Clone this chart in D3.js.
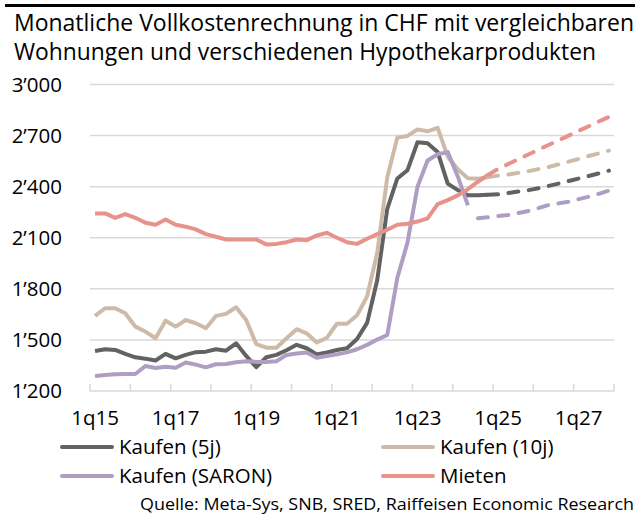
<!DOCTYPE html>
<html>
<head>
<meta charset="utf-8">
<script src="https://d3js.org/d3.v7.min.js"></script>
<style>
  body { margin: 0; background: #fff; }
  text { font-family: "Open Sans", "Noto Sans", sans-serif; fill: #000; }
</style>
</head>
<body>
<svg id="chart" width="635" height="517"></svg>
<script>
// quarters 1q15 .. 4q27
var quarters = [];
for (var yr = 15; yr <= 27; yr++) {
  for (var q = 1; q <= 4; q++) quarters.push(q + "q" + yr);
}

var xLabels = ["1q15", "1q17", "1q19", "1q21", "1q23", "1q25", "1q27"];
var yTicks = [1200, 1500, 1800, 2100, 2400, 2700, 3000];

// history, starting 1q15
var kaufen5 = [1435, 1445, 1441, 1418, 1398, 1390, 1379, 1418, 1392, 1412,
  1428, 1431, 1445, 1437, 1480, 1406, 1340, 1398, 1412, 1439,
  1471, 1451, 1414, 1426, 1441, 1451, 1505, 1600, 1850, 2270,
  2448, 2496, 2661, 2655, 2603, 2418, 2380, 2350, 2350, 2352];
var kaufen10 = [1641, 1686, 1686, 1657, 1578, 1549, 1510, 1613, 1578, 1617,
  1598, 1569, 1641, 1653, 1692, 1617, 1476, 1454, 1454, 1510,
  1563, 1539, 1485, 1512, 1595, 1595, 1645, 1756, 2010, 2455,
  2688, 2698, 2736, 2725, 2745, 2576, 2502, 2450, 2447, 2456];
var kaufenSaron = [1288, 1294, 1298, 1300, 1300, 1347, 1335, 1343, 1337, 1367,
  1355, 1339, 1357, 1359, 1369, 1375, 1371, 1371, 1375, 1412,
  1420, 1426, 1395, 1406, 1415, 1427, 1445, 1471, 1502, 1529,
  1865, 2070, 2400, 2554, 2590, 2603, 2460, 2290];
var mieten = [2243, 2243, 2217, 2239, 2217, 2188, 2176, 2207, 2176, 2165,
  2149, 2121, 2106, 2090, 2090, 2090, 2090, 2061, 2064, 2074,
  2090, 2086, 2113, 2129, 2100, 2074, 2064, 2094, 2121, 2147,
  2176, 2182, 2195, 2214, 2298, 2321, 2349, 2385, 2429, 2469];

// forecasts (dashed)
var kaufen5Fc = [2352, 2355, 2363, 2371, 2379, 2391, 2404, 2418, 2433, 2448, 2463, 2478, 2494];
var kaufen10Fc = [2456, 2465, 2471, 2481, 2491, 2503, 2515, 2531, 2547, 2563, 2580, 2596, 2612];
var kaufenSaronFc = [2214, 2220, 2227, 2234, 2245, 2257, 2274, 2292, 2302, 2312, 2327, 2341, 2358, 2377];
var mietenFc = [2469, 2504, 2533, 2561, 2589, 2617, 2645, 2672, 2700, 2728, 2755, 2783, 2810];

var series = [
  { name: "Kaufen (5j)", color: "#626262", hist: kaufen5, fc: kaufen5Fc, fcStart: "4q24" },
  { name: "Kaufen (10j)", color: "#cdbba8", hist: kaufen10, fc: kaufen10Fc, fcStart: "4q24" },
  { name: "Kaufen (SARON)", color: "#ae9ec3", hist: kaufenSaron, fc: kaufenSaronFc, fcStart: "3q24" },
  { name: "Mieten", color: "#e8928c", hist: mieten, fc: mietenFc, fcStart: "4q24" }
];

var svg = d3.select("#chart");

var x = d3.scaleBand().domain(quarters).range([90, 614]);
var y = d3.scaleLinear().domain([1200, 3000]).range([391, 84.5]);
var cx = function(q) { return x(q) + x.bandwidth() / 2; };

var loc = d3.formatLocale({ decimal: ".", thousands: "\u2019", grouping: [3], currency: ["", ""] });
var fmt = loc.format(",");

// top rule
svg.append("rect").attr("x", 5).attr("y", 4).attr("width", 630).attr("height", 3).attr("fill", "#000");

// title
svg.append("text").attr("x", 14).attr("y", 31)
  .attr("textLength", 620).attr("lengthAdjust", "spacingAndGlyphs")
  .style("font-size", "23px")
  .text("Monatliche Vollkostenrechnung in CHF mit vergleichbaren");
svg.append("text").attr("x", 14).attr("y", 60)
  .attr("textLength", 582).attr("lengthAdjust", "spacingAndGlyphs")
  .style("font-size", "23px")
  .text("Wohnungen und verschiedenen Hypothekarprodukten");

// gridlines
svg.append("g").selectAll("line")
  .data(yTicks.filter(function(d) { return d > 1200; }))
  .enter().append("line")
  .attr("x1", 90).attr("x2", 614)
  .attr("y1", function(d) { return y(d); })
  .attr("y2", function(d) { return y(d); })
  .attr("stroke", "#d9d9d9").attr("stroke-width", 1.5);

// y labels
svg.append("g").selectAll("text")
  .data(yTicks).enter().append("text")
  .attr("x", 62)
  .attr("y", function(d) { return y(d); })
  .attr("dy", "0.35em")
  .attr("text-anchor", "end")
  .style("font-size", "20.5px")
  .text(function(d) { return fmt(d); });

// x axis line + ticks pointing up
svg.append("line").attr("x1", 90).attr("x2", 614)
  .attr("y1", y(1200)).attr("y2", y(1200))
  .attr("stroke", "#d9d9d9").attr("stroke-width", 1.5);
var tickPos = quarters.filter(function(d, i) { return i % 4 === 0; }).map(function(q) { return x(q); });
tickPos.push(x.range()[1]);
svg.append("g").selectAll("line").data(tickPos).enter().append("line")
  .attr("x1", function(d) { return d; }).attr("x2", function(d) { return d; })
  .attr("y1", y(1200)).attr("y2", y(1200) - 7)
  .attr("stroke", "#d9d9d9").attr("stroke-width", 1.5);

svg.append("g").selectAll("text").data(xLabels).enter().append("text")
  .attr("x", function(d) { return cx(d); })
  .attr("y", 425)
  .attr("text-anchor", "middle")
  .style("font-size", "20.5px")
  .text(function(d) { return d; });

var line = d3.line()
  .x(function(d) { return cx(d.q); })
  .y(function(d) { return y(d.v); });

// solid history
series.forEach(function(s) {
  var pts = s.hist.map(function(v, i) { return { q: quarters[i], v: v }; });
  svg.append("path").datum(pts)
    .attr("d", line)
    .attr("fill", "none")
    .attr("stroke", s.color)
    .attr("stroke-width", 4)
    .attr("stroke-linejoin", "round");
});

// dashed forecasts
series.forEach(function(s) {
  var start = quarters.indexOf(s.fcStart);
  var pts = s.fc.map(function(v, i) { return { q: quarters[start + i], v: v }; });
  svg.append("path").datum(pts)
    .attr("d", line)
    .attr("fill", "none")
    .attr("stroke", s.color)
    .attr("stroke-width", 4)
    .attr("stroke-linecap", "round")
    .attr("stroke-dasharray", "10 10.5");
});

// legend
var legendPos = [[62, 447], [383, 447], [62, 476], [383, 476]];
series.forEach(function(s, i) {
  var p = legendPos[i];
  svg.append("line")
    .attr("x1", p[0]).attr("x2", p[0] + 50)
    .attr("y1", p[1]).attr("y2", p[1])
    .attr("stroke", s.color).attr("stroke-width", 4)
    .attr("stroke-linecap", "round");
  svg.append("text")
    .attr("x", p[0] + 57).attr("y", p[1] + 7)
    .style("font-size", "20.5px")
    .text(s.name);
});

// source
svg.append("text").attr("x", 634).attr("y", 510)
  .attr("text-anchor", "end")
  .attr("textLength", 494).attr("lengthAdjust", "spacingAndGlyphs")
  .style("font-size", "17px")
  .text("Quelle: Meta-Sys, SNB, SRED, Raiffeisen Economic Research");
</script>
</body>
</html>
